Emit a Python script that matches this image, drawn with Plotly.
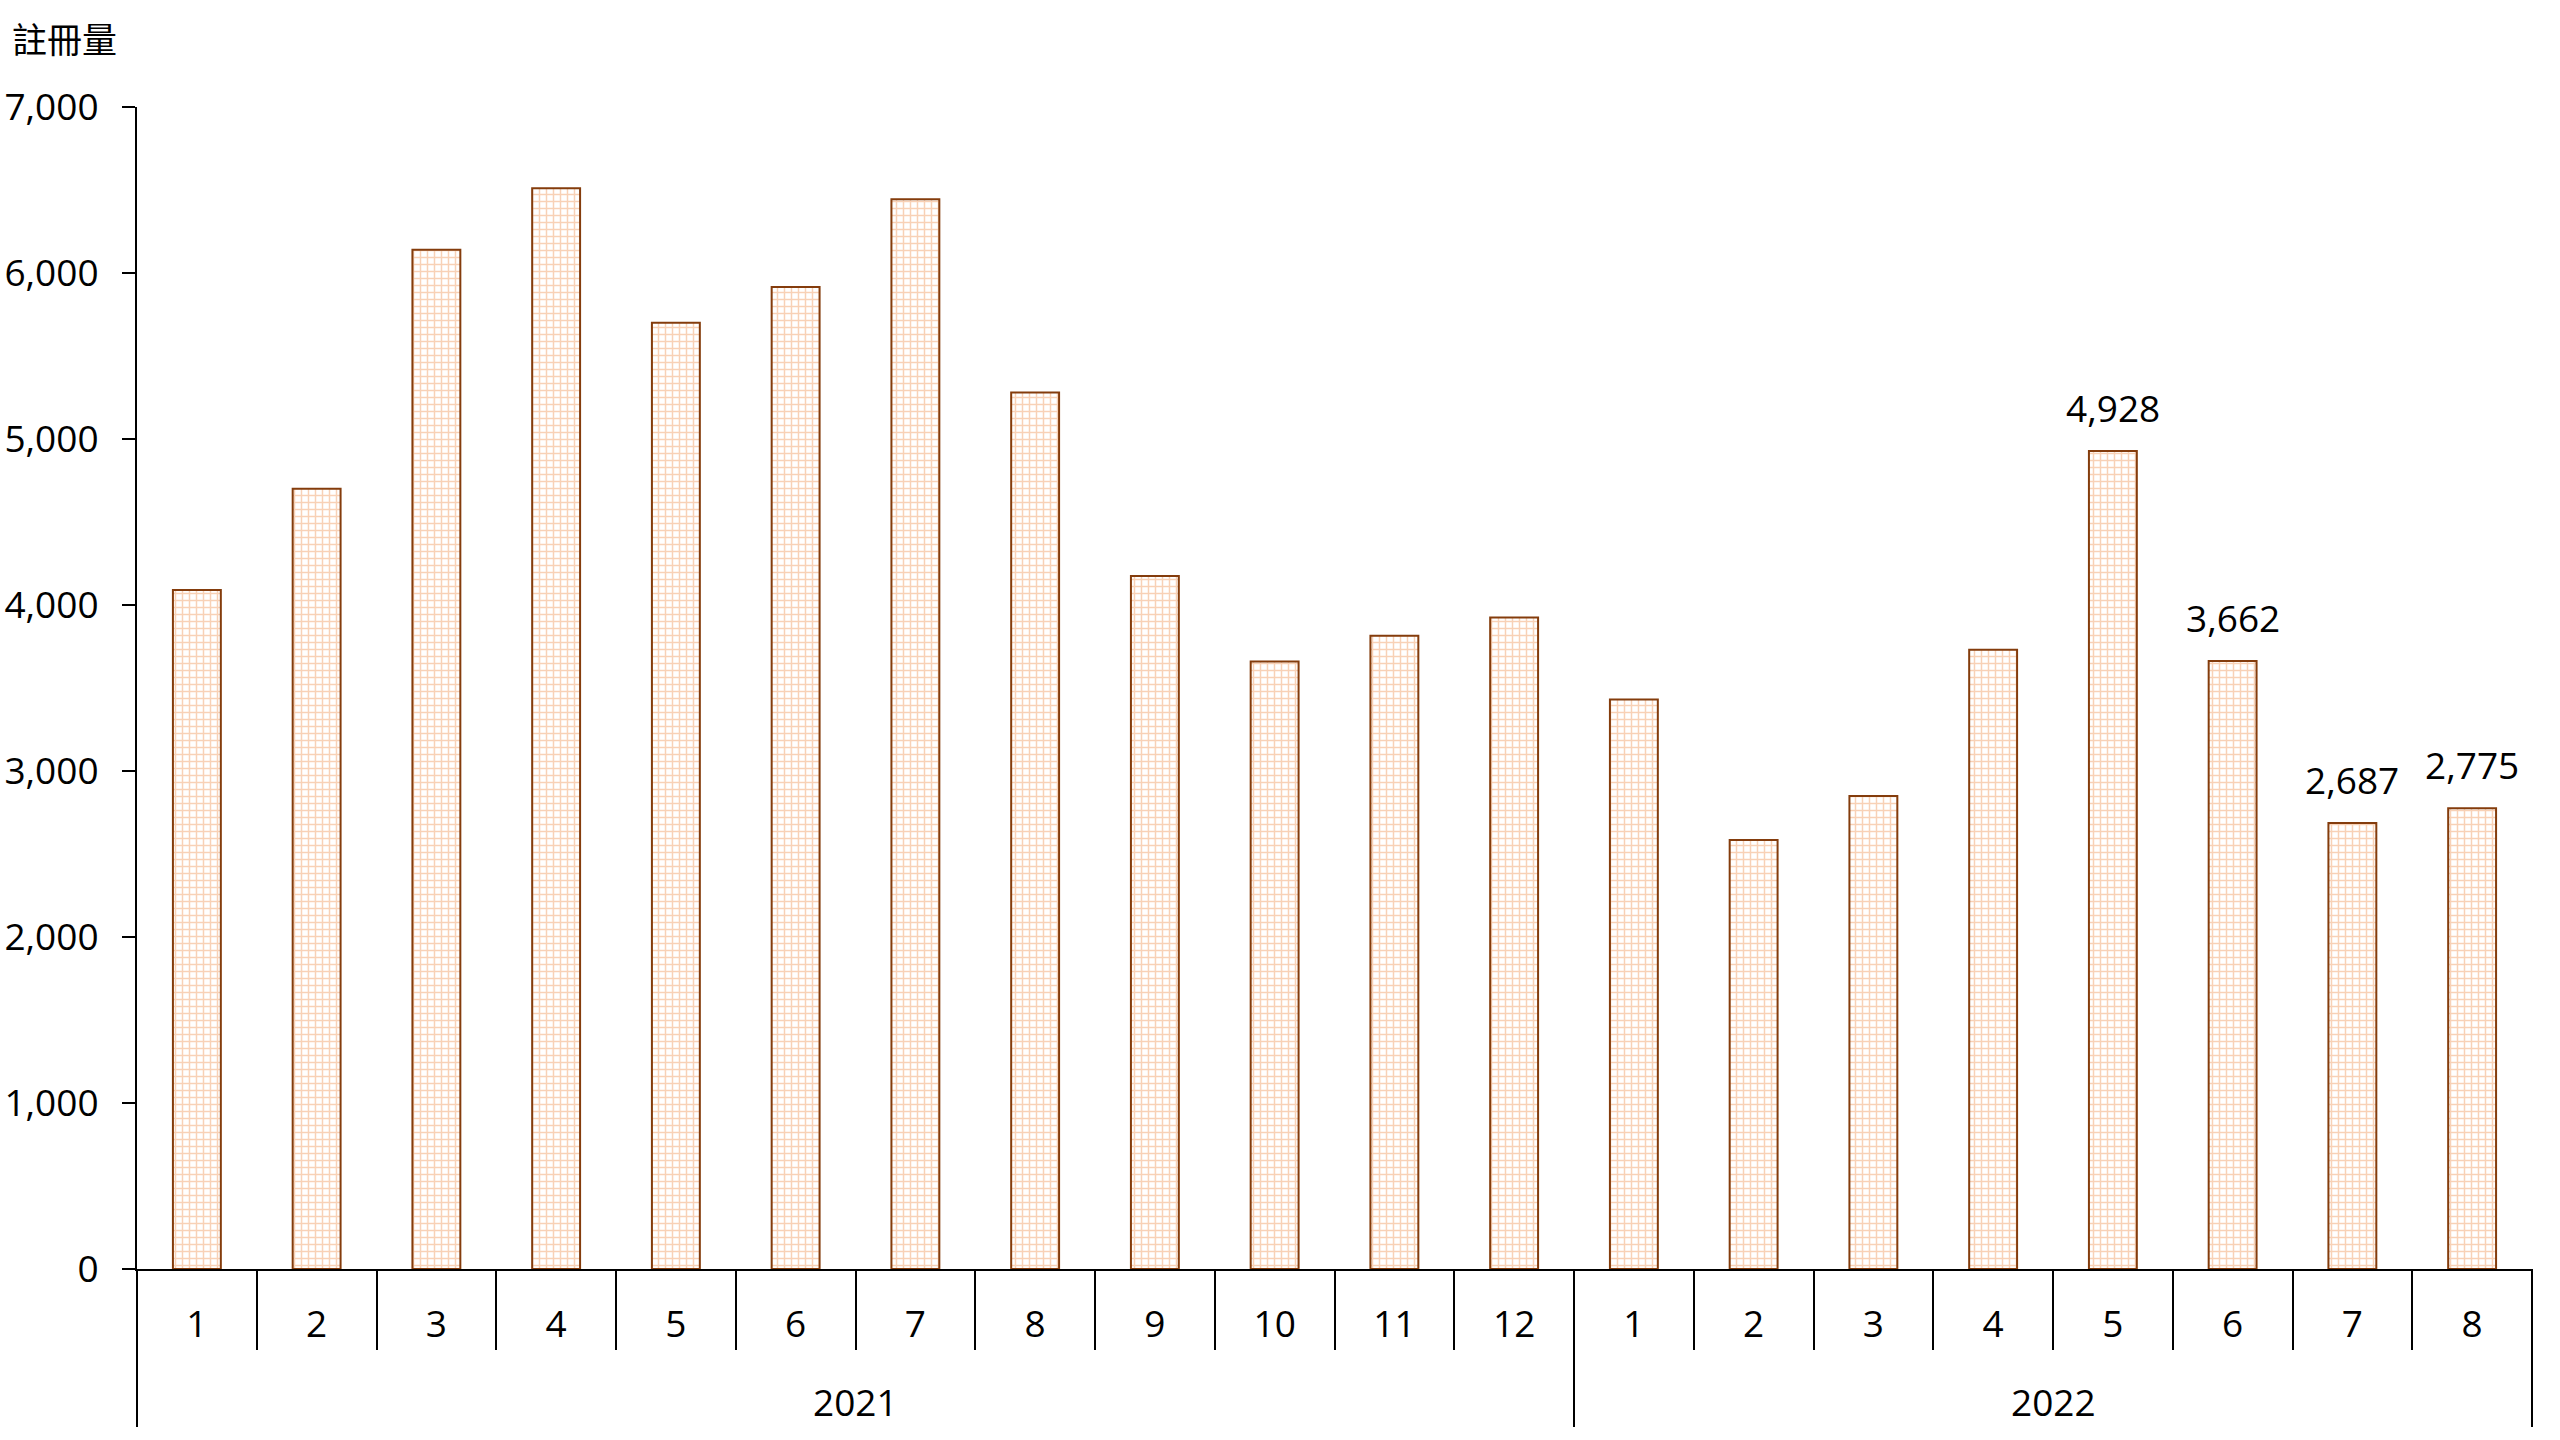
import plotly.graph_objects as go

years = ["2021"] * 12 + ["2022"] * 8
months = ["1", "2", "3", "4", "5", "6", "7", "8", "9", "10", "11", "12",
          "1", "2", "3", "4", "5", "6", "7", "8"]
values = [4090, 4700, 6140, 6510, 5700, 5915, 6445, 5280, 4175, 3660, 3815, 3925,
          3430, 2585, 2850, 3730, 4928, 3662, 2687, 2775]
labeled_idx = [16, 17, 18, 19]
y_title = "註冊量"
y_ticks = [0, 1000, 2000, 3000, 4000, 5000, 6000, 7000]

W, H = 2560, 1440
FONT = "Open Sans, Noto Sans CJK TC, sans-serif"
L, R, T, B = 137, 28, 107, 171
PLOT_H = H - T - B

keys = [f"{y}-{m}" for y, m in zip(years, months)]
n = len(keys)

fig = go.Figure()
fig.add_trace(go.Bar(
    x=keys, y=values,
    marker=dict(
        color="white",
        line=dict(color="#843C0C", width=2),
        pattern=dict(shape="+", fgcolor="#F2A36E", bgcolor="white", size=7, solidity=0.38),
    ),
    showlegend=False,
    hoverinfo="skip",
))

# value labels
for i in labeled_idx:
    fig.add_annotation(x=keys[i], y=values[i], xref="x", yref="y", text=f"{values[i]:,}",
                       showarrow=False, xanchor="center", yanchor="bottom", yshift=16,
                       font=dict(size=37, color="black", family=FONT))

# year group labels and dividers
groups = []
for i, y in enumerate(years):
    if not groups or groups[-1][0] != y:
        groups.append([y, i, i])
    else:
        groups[-1][2] = i
div_len = 158 / PLOT_H
for name, a, b in groups:
    x0 = a / n
    x1 = (b + 1) / n
    fig.add_annotation(x=(x0 + x1) / 2, y=0, xref="paper", yref="paper", text=name,
                       showarrow=False, xanchor="center", yanchor="middle", yshift=-132,
                       font=dict(size=37, color="black", family=FONT))
    for xx in (x0, x1):
        fig.add_shape(type="line", xref="paper", yref="paper", x0=xx, x1=xx,
                      y0=0, y1=-div_len, line=dict(color="black", width=2))

# y-axis title at top-left
fig.add_annotation(x=0, y=1, xref="paper", yref="paper", text=y_title,
                   showarrow=False, xanchor="left", yanchor="middle",
                   xshift=10 - L, yshift=T - 37,
                   font=dict(size=35, color="black", family="Noto Sans CJK TC"))

fig.update_layout(
    width=W, height=H,
    margin=dict(l=L, r=R, t=T, b=B, autoexpand=False),
    paper_bgcolor="white", plot_bgcolor="white",
    bargap=0.6,
    font=dict(family=FONT, size=37, color="black"),
)
fig.update_xaxes(
    type="category",
    tickvals=keys, ticktext=months,
    showline=True, linecolor="black", linewidth=2,
    ticks="outside", tickson="boundaries", ticklen=79, tickwidth=2, tickcolor="black",
    tickfont=dict(size=37, family=FONT, color="black"),
    ticklabelstandoff=22,
    showgrid=False, automargin=False,
)
fig.update_yaxes(
    range=[0, 7000], tickvals=y_ticks, tickformat=",",
    showline=True, linecolor="black", linewidth=2,
    ticks="outside", ticklen=13, tickwidth=2, tickcolor="black",
    ticklabelstandoff=16,
    tickfont=dict(size=37, family=FONT, color="black"),
    showgrid=False, zeroline=False, automargin=False,
)

fig.write_html("out.html",
               config={"displayModeBar": False},
               post_script="document.body.style.margin='0';document.body.style.overflow='hidden';")
